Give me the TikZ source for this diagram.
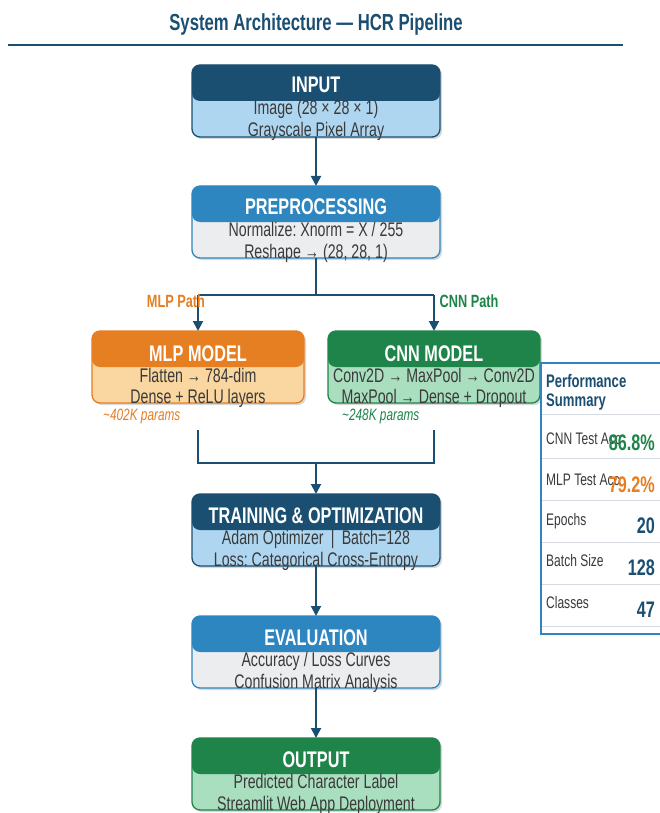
\documentclass[tikz,border=0pt]{standalone}
\usepackage{fontspec}
\setmainfont{Liberation Sans}[FakeStretch=0.72]
\usetikzlibrary{arrows.meta,shadows}
\frenchspacing
\definecolor{dkblue}{HTML}{1B4F72}
\definecolor{mdblue}{HTML}{2E86C1}
\definecolor{ltblue}{HTML}{AED6F1}
\definecolor{ltgray}{HTML}{EBEDEF}
\definecolor{orng}{HTML}{E67E22}
\definecolor{ltorng}{HTML}{FAD7A0}
\definecolor{grn}{HTML}{1E8449}
\definecolor{ltgrn}{HTML}{A9DFBF}
\definecolor{txtgray}{HTML}{3A3A3A}
\definecolor{sepgray}{HTML}{D5DBE0}
\tikzset{
  stagebox/.style n args={3}{draw=#3, line width=1.3pt, rounded corners=8pt,
    fill=#2, minimum width=248pt, minimum height=72pt, anchor=north,
    inner sep=0pt, outer sep=0pt,
    drop shadow={shadow xshift=2pt, shadow yshift=-2pt, opacity=0.25, fill=black!60},
    path picture={\fill[#1] ([yshift=-36pt]path picture bounding box.north west)
      rectangle (path picture bounding box.north east);}},
  hdrtxt/.style={text=white, font=\bfseries\fontsize{22.6}{26}\selectfont, anchor=base, inner sep=0pt},
  bodytxt/.style={text=txtgray, font=\fontsize{19.7}{23}\selectfont, anchor=base, inner sep=0pt},
  conn/.style={draw=dkblue, line width=2pt},
  arr/.style={conn, -{Triangle[length=10pt,width=10pt]}},
  pathlbl/.style={font=\bfseries\fontsize{17.7}{20}\selectfont, anchor=base, inner sep=0pt},
  paramlbl/.style={font=\itshape\fontsize{16.4}{19}\selectfont, anchor=base west, inner sep=0pt},
  perflbl/.style={text=txtgray, font=\fontsize{16.7}{19}\selectfont, anchor=base west, inner sep=0pt},
  perfval/.style={font=\bfseries\fontsize{22.5}{26}\selectfont, anchor=base east, inner sep=0pt},
  sepline/.style={draw=sepgray, line width=1pt},
}
\begin{document}
\begin{tikzpicture}[x=1pt, y=-1pt]
\useasboundingbox[fill=white] (0,0) rectangle (659,813);

% title
\node[text=dkblue, font=\bfseries\fontsize{23.2}{27}\selectfont, anchor=base, inner sep=0pt] (title) at (316,31) {System Architecture — HCR Pipeline};
\draw[draw=dkblue, line width=2pt] (8,45) -- (623,45);

% stages
\node[stagebox={dkblue}{ltblue}{dkblue}] (input) at (316,65) {};
\node[hdrtxt] (inputT) at ([yshift=-28pt]input.north) {INPUT};
\node[bodytxt] (inputA) at ([yshift=-50pt]input.north) {Image (28 × 28 × 1)};
\node[bodytxt] (inputB) at ([yshift=-72pt]input.north) {Grayscale Pixel Array};

\node[stagebox={mdblue}{ltgray}{mdblue}] (prep) at (316,186) {};
\node[hdrtxt] (prepT) at ([yshift=-28pt]prep.north) {PREPROCESSING};
\node[bodytxt] (prepA) at ([yshift=-50pt]prep.north) {Normalize: Xnorm = X / 255};
\node[bodytxt] (prepB) at ([yshift=-72pt]prep.north) {Reshape → (28, 28, 1)};

\node[stagebox={orng}{ltorng}{orng}, minimum width=212pt] (mlp) at (198,331) {};
\node[hdrtxt] (mlpT) at ([yshift=-30pt]mlp.north) {MLP MODEL};
\node[bodytxt] (mlpA) at ([yshift=-51pt]mlp.north) {Flatten → 784-dim};
\node[bodytxt] (mlpB) at ([yshift=-72pt]mlp.north) {Dense + ReLU layers};

\node[stagebox={grn}{ltgrn}{grn}, minimum width=212pt] (cnn) at (434,331) {};
\node[hdrtxt] (cnnT) at ([yshift=-30pt]cnn.north) {CNN MODEL};
\node[bodytxt] (cnnA) at ([yshift=-51pt]cnn.north) {Conv2D → MaxPool → Conv2D};
\node[bodytxt] (cnnB) at ([yshift=-72pt]cnn.north) {MaxPool → Dense + Dropout};

\node[paramlbl, text=orng] (mlpP) at (103,420) {\textasciitilde402K params};
\node[paramlbl, text=grn] (cnnP) at (342,420) {\textasciitilde248K params};

\node[stagebox={dkblue}{ltblue}{dkblue}] (train) at (316,494) {};
\node[hdrtxt] (trainT) at ([yshift=-29pt]train.north) {TRAINING \& OPTIMIZATION};
\node[bodytxt] (trainA) at ([yshift=-50pt]train.north) {Adam Optimizer \,|\, Batch=128};
\node[bodytxt] (trainB) at ([yshift=-72pt]train.north) {Loss: Categorical Cross-Entropy};

\node[stagebox={mdblue}{ltgray}{mdblue}] (eval) at (316,616) {};
\node[hdrtxt] (evalT) at ([yshift=-29pt]eval.north) {EVALUATION};
\node[bodytxt] (evalA) at ([yshift=-50pt]eval.north) {Accuracy / Loss Curves};
\node[bodytxt] (evalB) at ([yshift=-72pt]eval.north) {Confusion Matrix Analysis};

\node[stagebox={grn}{ltgrn}{grn}] (out) at (316,738) {};
\node[hdrtxt] (outT) at ([yshift=-29pt]out.north) {OUTPUT};
\node[bodytxt] (outA) at ([yshift=-50pt]out.north) {Predicted Character Label};
\node[bodytxt] (outB) at ([yshift=-72pt]out.north) {Streamlit Web App Deployment};

% connectors
\draw[arr] (input.south) -- (prep.north);
\coordinate (split) at (316,295);
\coordinate (splitL) at (198,295);
\coordinate (splitR) at (434,295);
\draw[conn] (prep.south) -- (split);
\draw[conn] (splitL) -- (splitR);
\draw[arr] (splitL) -- (mlp.north);
\draw[arr] (splitR) -- (cnn.north);
\node[pathlbl, text=orng] (mlpPath) at (176,307) {MLP Path};
\node[pathlbl, text=grn] (cnnPath) at (469,307) {CNN Path};

\coordinate (mlpEnd) at (198,430);
\coordinate (cnnEnd) at (434,430);
\coordinate (join) at (316,463);
\draw[conn] (mlpEnd) -- (198,463) -- (434,463) -- (cnnEnd);
\draw[arr] (join) -- (train.north);
\draw[arr] (train.south) -- (eval.north);
\draw[arr] (eval.south) -- (out.north);

% performance panel
\node[draw=mdblue, line width=1.3pt, fill=white, minimum width=135pt, minimum height=271pt,
      anchor=north west, inner sep=0pt, outer sep=0pt] (perf) at (541,363) {};
\node[text=dkblue, font=\bfseries\fontsize{18.2}{21}\selectfont, anchor=base west, inner sep=0pt] (perfT) at (546,387) {Performance};
\node[text=dkblue, font=\bfseries\fontsize{18.2}{21}\selectfont, anchor=base west, inner sep=0pt] (perfT2) at (546,406) {Summary};
\foreach \yy in {414,458,500,542,584,626} \draw[sepline] (542,\yy) -- (672,\yy);
\node[perflbl] (l1) at (546,444) {CNN Test Acc};
\node[perfval, text=grn] (v1) at (655,450) {86.8\%};
\node[perflbl] (l2) at (546,485) {MLP Test Acc};
\node[perfval, text=orng] (v2) at (655,492) {79.2\%};
\node[perflbl] (l3) at (546,525) {Epochs};
\node[perfval, text=dkblue] (v3) at (655,533) {20};
\node[perflbl] (l4) at (546,566) {Batch Size};
\node[perfval, text=dkblue] (v4) at (655,575) {128};
\node[perflbl] (l5) at (546,608) {Classes};
\node[perfval, text=dkblue] (v5) at (655,617) {47};
\end{tikzpicture}
\end{document}
